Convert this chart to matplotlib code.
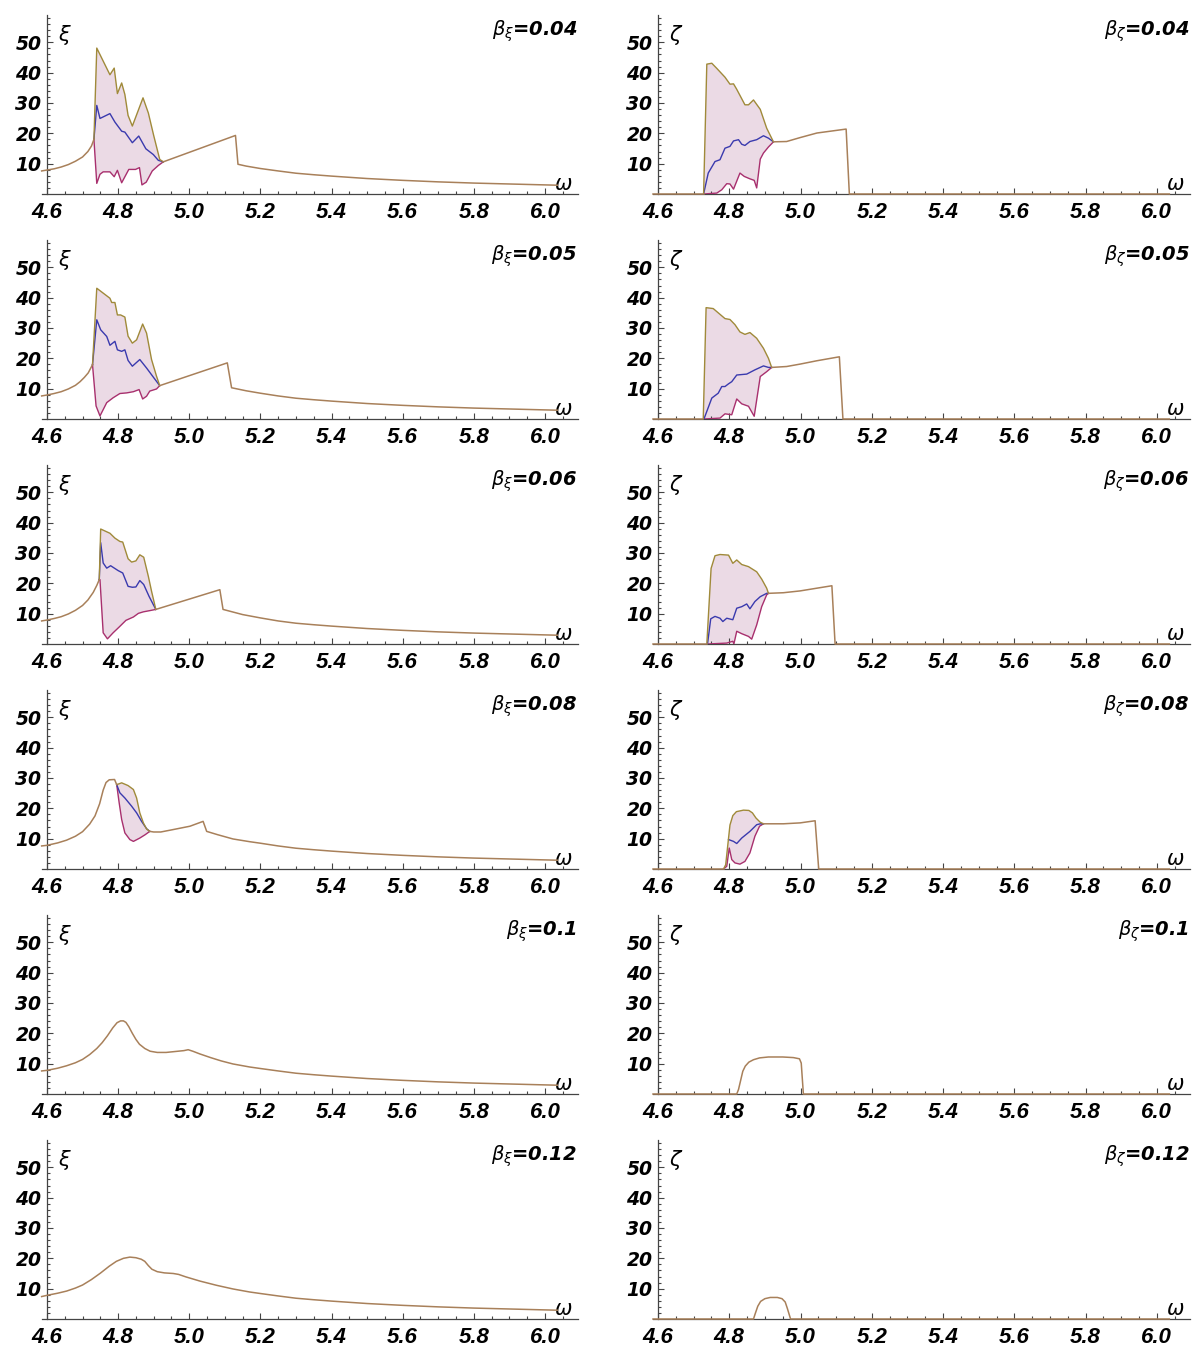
import numpy as np
import matplotlib.pyplot as plt
from matplotlib.ticker import FixedLocator

# ---- data: omega values (w) and amplitudes (v) ----
betas = ["0.04", "0.05", "0.06", "0.08", "0.1", "0.12"]
tail_w = [5.25, 5.3, 5.35, 5.4, 5.5, 5.6, 5.7, 5.8, 5.9, 6.0, 6.035]
tail_v = [7.6, 6.85, 6.35, 5.9, 5.1, 4.5, 4.0, 3.6, 3.3, 3.0, 2.9]

# xi, beta = 0.04
xi1_pre_w = [4.585, 4.6, 4.62, 4.64, 4.66, 4.68, 4.70, 4.715, 4.725, 4.732]
xi1_pre_v = [7.6, 7.9, 8.3, 8.9, 9.7, 10.8, 12.2, 14.0, 15.8, 18.0]
xi1_up_w = [4.732, 4.74, 4.777, 4.789, 4.798, 4.81, 4.819, 4.828, 4.84, 4.87, 4.885, 4.9, 4.917, 4.927]
xi1_up_v = [18.0, 48.1, 39.3, 41.5, 33.1, 36.6, 32.8, 25.9, 22.4, 31.7, 26.7, 19.3, 11.4, 10.6]
xi1_mid_w = [4.732, 4.74, 4.749, 4.777, 4.791, 4.81, 4.819, 4.84, 4.858, 4.878, 4.899, 4.913, 4.927]
xi1_mid_v = [18.0, 29.2, 24.9, 26.5, 23.7, 20.7, 20.4, 16.9, 19.1, 14.9, 13.0, 11.1, 10.6]
xi1_lo_w = [4.732, 4.74, 4.749, 4.758, 4.777, 4.789, 4.798, 4.81, 4.83, 4.849, 4.86, 4.867, 4.879, 4.896, 4.913, 4.927]
xi1_lo_v = [18.0, 3.5, 6.5, 7.3, 7.3, 5.7, 7.8, 3.7, 8.1, 8.1, 8.7, 3.0, 3.9, 7.6, 9.4, 10.6]
xi1_post_w = [4.927, 5.13, 5.137, 5.16, 5.2] + tail_w
xi1_post_v = [10.6, 19.3, 9.8, 9.2, 8.4] + tail_v

# zeta, beta = 0.04
ze1_pre_w = [4.586, 4.728]
ze1_pre_v = [0, 0]
ze1_up_w = [4.728, 4.737, 4.751, 4.765, 4.788, 4.802, 4.812, 4.821, 4.844, 4.854, 4.868, 4.887, 4.905, 4.924]
ze1_up_v = [0, 42.8, 43.1, 41.4, 38.5, 36.2, 36.3, 34.5, 29.4, 29.4, 31.0, 27.9, 21.7, 17.2]
ze1_mid_w = [4.728, 4.741, 4.76, 4.774, 4.788, 4.802, 4.812, 4.826, 4.835, 4.844, 4.858, 4.877, 4.896, 4.91, 4.924]
ze1_mid_v = [0, 6.9, 10.7, 11.3, 15.1, 15.7, 17.5, 17.9, 16.4, 16.0, 17.3, 17.9, 19.2, 18.4, 17.2]
ze1_lo_w = [4.728, 4.765, 4.779, 4.793, 4.802, 4.812, 4.83, 4.842, 4.858, 4.87, 4.877, 4.887, 4.896, 4.91, 4.924]
ze1_lo_v = [0, 0.3, 1.4, 3.4, 3.3, 1.6, 6.9, 5.8, 5.0, 4.5, 2.0, 11.5, 13.5, 15.5, 17.2]
ze1_post_w = [4.924, 4.961, 4.999, 5.046, 5.128, 5.137, 6.035]
ze1_post_v = [17.2, 17.3, 18.6, 20.1, 21.4, 0, 0]

# xi, beta = 0.05
xi2_pre_w = [4.585, 4.6, 4.62, 4.64, 4.66, 4.68, 4.693, 4.705, 4.716, 4.728]
xi2_pre_v = [7.6, 7.9, 8.4, 9.0, 9.9, 11.1, 12.3, 13.7, 15.2, 17.9]
xi2_up_w = [4.728, 4.74, 4.777, 4.782, 4.791, 4.798, 4.807, 4.819, 4.828, 4.84, 4.852, 4.869, 4.88, 4.894, 4.908, 4.917]
xi2_up_v = [17.9, 43.1, 39.8, 38.4, 38.4, 34.3, 34.3, 33.6, 27.3, 25.0, 26.1, 31.3, 28.3, 19.6, 14.1, 11.0]
xi2_mid_w = [4.728, 4.74, 4.751, 4.768, 4.777, 4.791, 4.798, 4.81, 4.819, 4.828, 4.84, 4.861, 4.88, 4.899, 4.917]
xi2_mid_v = [17.9, 32.7, 29.4, 27.2, 24.3, 25.6, 22.8, 22.3, 22.8, 19.3, 17.4, 19.6, 16.8, 13.8, 11.0]
xi2_lo_w = [4.728, 4.738, 4.749, 4.768, 4.786, 4.805, 4.824, 4.843, 4.859, 4.869, 4.88, 4.889, 4.908, 4.917]
xi2_lo_v = [17.9, 4.3, 1.0, 5.4, 7.0, 8.4, 8.6, 9.0, 9.7, 6.6, 7.5, 9.2, 9.9, 11.0]
xi2_post_w = [4.917, 5.107, 5.119, 5.16, 5.2] + tail_w
xi2_post_v = [11.0, 18.5, 10.3, 9.3, 8.5] + tail_v

# zeta, beta = 0.05
ze2_pre_w = [4.586, 4.727]
ze2_pre_v = [0, 0]
ze2_up_w = [4.727, 4.735, 4.755, 4.769, 4.788, 4.802, 4.816, 4.83, 4.844, 4.858, 4.877, 4.896, 4.91, 4.919]
ze2_up_v = [0, 36.7, 36.4, 35.0, 33.1, 32.8, 31.1, 28.7, 27.9, 28.5, 26.6, 23.3, 20.0, 17.0]
ze2_mid_w = [4.729, 4.751, 4.769, 4.779, 4.788, 4.798, 4.807, 4.821, 4.849, 4.872, 4.896, 4.91, 4.919]
ze2_mid_v = [0, 6.9, 8.5, 10.7, 10.7, 11.6, 12.3, 14.5, 14.8, 16.2, 17.5, 17.0, 17.0]
ze2_lo_w = [4.729, 4.774, 4.788, 4.807, 4.821, 4.835, 4.854, 4.87, 4.887, 4.905, 4.919]
ze2_lo_v = [0, 0.3, 1.7, 1.4, 6.6, 5.0, 4.2, 0.9, 14.0, 15.6, 17.0]
ze2_post_w = [4.919, 4.961, 4.999, 5.046, 5.109, 5.119, 6.035]
ze2_post_v = [17.0, 17.3, 18.1, 19.2, 20.5, 0, 0]

# xi, beta = 0.06
xi3_pre_w = [4.585, 4.6, 4.62, 4.64, 4.66, 4.68, 4.70, 4.715, 4.73, 4.74, 4.747]
xi3_pre_v = [7.6, 7.9, 8.4, 9.0, 9.9, 11.1, 12.7, 14.5, 17.0, 19.3, 21.2]
xi3_up_w = [4.747, 4.751, 4.777, 4.791, 4.805, 4.813, 4.828, 4.838, 4.85, 4.861, 4.872, 4.885, 4.894, 4.906]
xi3_up_v = [21.2, 37.9, 36.5, 34.9, 33.8, 33.6, 28.1, 27.0, 27.4, 29.4, 28.6, 22.3, 17.4, 11.4]
xi3_mid_w = [4.747, 4.751, 4.758, 4.768, 4.779, 4.8, 4.813, 4.828, 4.84, 4.85, 4.861, 4.872, 4.887, 4.906]
xi3_mid_v = [21.2, 33.4, 26.7, 25.0, 25.8, 24.2, 23.4, 19.0, 18.7, 18.8, 20.9, 19.6, 15.7, 11.4]
xi3_lo_w = [4.747, 4.749, 4.758, 4.77, 4.786, 4.803, 4.822, 4.843, 4.857, 4.871, 4.889, 4.906]
xi3_lo_v = [21.2, 21.2, 3.7, 1.7, 3.7, 5.6, 7.8, 8.9, 10.1, 10.6, 11.0, 11.4]
xi3_post_w = [4.906, 5.086, 5.095, 5.15, 5.2] + tail_w
xi3_post_v = [11.4, 17.9, 11.4, 9.7, 8.6] + tail_v

# zeta, beta = 0.06
ze3_pre_w = [4.586, 4.737]
ze3_pre_v = [0, 0]
ze3_up_w = [4.737, 4.749, 4.76, 4.774, 4.798, 4.81, 4.821, 4.835, 4.854, 4.877, 4.891, 4.905, 4.91]
ze3_up_v = [0, 24.9, 29.1, 29.5, 29.3, 26.6, 27.7, 26.2, 25.5, 23.8, 21.4, 18.4, 16.7]
ze3_mid_w = [4.739, 4.748, 4.76, 4.774, 4.782, 4.793, 4.81, 4.821, 4.835, 4.849, 4.858, 4.872, 4.887, 4.905, 4.91]
ze3_mid_v = [0, 8.3, 9.1, 8.5, 7.4, 8.5, 8.0, 11.8, 12.3, 13.2, 11.6, 14.0, 15.6, 16.7, 16.7]
ze3_lo_w = [4.739, 4.793, 4.81, 4.813, 4.821, 4.835, 4.854, 4.863, 4.877, 4.891, 4.905, 4.91]
ze3_lo_v = [0, 0.3, 0.9, 0, 4.2, 3.4, 2.5, 1.6, 6.3, 12.3, 16.2, 16.7]
ze3_post_w = [4.91, 4.952, 4.999, 5.046, 5.088, 5.097, 6.035]
ze3_post_v = [16.7, 16.9, 17.5, 18.4, 19.2, 0, 0]

# xi, beta = 0.08
xi4_pre_w = [4.585, 4.6, 4.63, 4.655, 4.68, 4.70, 4.72, 4.735, 4.748, 4.758, 4.766, 4.775, 4.79, 4.796]
xi4_pre_v = [7.6, 7.8, 8.6, 9.5, 10.8, 12.3, 14.8, 17.5, 21.5, 26.0, 28.5, 29.4, 29.5, 27.8]
xi4_up_w = [4.796, 4.81, 4.828, 4.843, 4.852, 4.861, 4.871, 4.88, 4.889]
xi4_up_v = [27.8, 28.4, 27.5, 26.2, 23.4, 18.5, 15.2, 13.2, 12.4]
xi4_mid_w = [4.796, 4.805, 4.819, 4.838, 4.852, 4.866, 4.88, 4.889]
xi4_mid_v = [27.8, 25.1, 23.4, 20.7, 18.5, 15.7, 13.3, 12.4]
xi4_lo_w = [4.796, 4.803, 4.81, 4.819, 4.833, 4.843, 4.861, 4.876, 4.889]
xi4_lo_v = [27.8, 21.8, 16.3, 11.9, 9.7, 9.1, 10.2, 11.3, 12.4]
xi4_post_w = [4.889, 4.9, 4.92, 4.955, 5.002, 5.039, 5.049, 5.08, 5.123, 5.17, 5.2] + tail_w
xi4_post_v = [12.4, 12.2, 12.2, 13.0, 14.1, 15.7, 12.4, 11.3, 9.9, 9.0, 8.5] + tail_v

# zeta, beta = 0.08
ze4_pre_w = [4.586, 4.784]
ze4_pre_v = [0, 0]
ze4_up_w = [4.784, 4.79, 4.796, 4.802, 4.81, 4.82, 4.84, 4.855, 4.865, 4.875, 4.887, 4.896]
ze4_up_v = [0, 1.4, 8.0, 14.5, 17.6, 18.9, 19.4, 19.3, 18.5, 16.8, 15.4, 14.9]
ze4_mid_w = [4.798, 4.812, 4.821, 4.835, 4.858, 4.877, 4.887, 4.896]
ze4_mid_v = [9.7, 9.1, 8.4, 10.2, 12.4, 14.6, 14.9, 14.9]
ze4_lo_w = [4.784, 4.793, 4.8, 4.807, 4.816, 4.83, 4.844, 4.858, 4.872, 4.885, 4.896]
ze4_lo_v = [0, 0.9, 6.9, 3.1, 2.0, 1.6, 2.5, 5.3, 10.8, 14.1, 14.9]
ze4_post_w = [4.896, 4.952, 4.999, 5.041, 5.051, 6.035]
ze4_post_v = [14.9, 14.9, 15.2, 15.9, 0, 0]

# beta = 0.1 and 0.12: single curves
xi5_w = [4.585, 4.6, 4.63, 4.655, 4.68, 4.70, 4.72, 4.74, 4.755, 4.77, 4.785, 4.797, 4.807, 4.815,
         4.822, 4.83, 4.84, 4.85, 4.86, 4.875, 4.89, 4.91, 4.935, 4.96, 4.985, 4.997, 5.01, 5.03,
         5.06, 5.09, 5.123, 5.17, 5.2] + tail_w
xi5_v = [7.6, 7.8, 8.5, 9.3, 10.3, 11.4, 13.0, 15.0, 16.9, 19.2, 21.8, 23.5, 24.1, 24.1,
         23.6, 22.2, 20.0, 18.0, 16.4, 15.0, 14.1, 13.7, 13.7, 14.0, 14.3, 14.6, 14.1, 13.2,
         12.0, 10.9, 9.9, 8.9, 8.4] + tail_v
ze5_w = [4.586, 4.821, 4.826, 4.832, 4.838, 4.845, 4.855, 4.868, 4.885, 4.91, 4.95, 4.98, 4.997, 5.002, 5.008, 6.035]
ze5_v = [0, 0, 1.5, 4.5, 7.5, 9.2, 10.5, 11.3, 11.9, 12.2, 12.2, 12.0, 11.6, 10.2, 0, 0]
xi6_w = [4.585, 4.6, 4.63, 4.655, 4.68, 4.70, 4.725, 4.75, 4.775, 4.795, 4.815, 4.833, 4.85, 4.865,
         4.875, 4.885, 4.895, 4.91, 4.93, 4.955, 4.97, 4.99, 5.03, 5.077, 5.123, 5.17, 5.2] + tail_w
xi6_v = [7.4, 7.8, 8.5, 9.2, 10.2, 11.2, 13.0, 15.1, 17.4, 19.0, 20.0, 20.4, 20.2, 19.7,
         19.0, 17.6, 16.4, 15.6, 15.2, 15.0, 14.7, 13.9, 12.5, 11.1, 9.9, 8.9, 8.4] + tail_v
ze6_w = [4.586, 4.868, 4.873, 4.88, 4.888, 4.9, 4.915, 4.935, 4.948, 4.957, 4.963, 4.97, 4.972, 6.035]
ze6_v = [0, 0, 1.8, 4.2, 5.8, 6.7, 7.1, 7.1, 6.7, 5.6, 3.5, 0.8, 0, 0]

xi_panels = [
    (xi1_pre_w, xi1_pre_v, xi1_up_w, xi1_up_v, xi1_mid_w, xi1_mid_v, xi1_lo_w, xi1_lo_v, xi1_post_w, xi1_post_v),
    (xi2_pre_w, xi2_pre_v, xi2_up_w, xi2_up_v, xi2_mid_w, xi2_mid_v, xi2_lo_w, xi2_lo_v, xi2_post_w, xi2_post_v),
    (xi3_pre_w, xi3_pre_v, xi3_up_w, xi3_up_v, xi3_mid_w, xi3_mid_v, xi3_lo_w, xi3_lo_v, xi3_post_w, xi3_post_v),
    (xi4_pre_w, xi4_pre_v, xi4_up_w, xi4_up_v, xi4_mid_w, xi4_mid_v, xi4_lo_w, xi4_lo_v, xi4_post_w, xi4_post_v),
    (xi5_w, xi5_v, None, None, None, None, None, None, [], []),
    (xi6_w, xi6_v, None, None, None, None, None, None, [], []),
]
ze_panels = [
    (ze1_pre_w, ze1_pre_v, ze1_up_w, ze1_up_v, ze1_mid_w, ze1_mid_v, ze1_lo_w, ze1_lo_v, ze1_post_w, ze1_post_v),
    (ze2_pre_w, ze2_pre_v, ze2_up_w, ze2_up_v, ze2_mid_w, ze2_mid_v, ze2_lo_w, ze2_lo_v, ze2_post_w, ze2_post_v),
    (ze3_pre_w, ze3_pre_v, ze3_up_w, ze3_up_v, ze3_mid_w, ze3_mid_v, ze3_lo_w, ze3_lo_v, ze3_post_w, ze3_post_v),
    (ze4_pre_w, ze4_pre_v, ze4_up_w, ze4_up_v, ze4_mid_w, ze4_mid_v, ze4_lo_w, ze4_lo_v, ze4_post_w, ze4_post_v),
    (ze5_w, ze5_v, None, None, None, None, None, None, [], []),
    (ze6_w, ze6_v, None, None, None, None, None, None, [], []),
]

c_up = '#a08a3a'
c_mid = '#3a3aae'
c_lo = '#a8306e'
c_base = '#a8805a'
c_fill = '#ebdae5'

W, H = 1193, 1349
fig = plt.figure(figsize=(W / 100, H / 100), dpi=100)


def draw(ax, p, sym, sub, beta):
    pre_w, pre_v, up_w, up_v, mid_w, mid_v, lo_w, lo_v, post_w, post_v = p
    if up_w is not None:
        ax.fill(np.r_[up_w, lo_w[::-1]], np.r_[up_v, lo_v[::-1]], color=c_fill, lw=0, zorder=1)
        ax.plot(lo_w, lo_v, color=c_lo, lw=1.0, zorder=3)
        ax.plot(mid_w, mid_v, color=c_mid, lw=1.0, zorder=3)
        ax.plot(up_w, up_v, color=c_up, lw=1.0, zorder=3)
    ax.plot(pre_w, pre_v, color=c_base, lw=1.1, zorder=4, clip_on=False)
    if len(post_w):
        ax.plot(post_w, post_v, color=c_base, lw=1.1, zorder=4, clip_on=False)

    ax.set_xlim(4.586, 6.093)
    ax.set_ylim(0, 59)
    for s in ['top', 'right']:
        ax.spines[s].set_visible(False)
    ax.spines['left'].set_position(('data', 4.6))
    for s in ['left', 'bottom']:
        ax.spines[s].set_color('#444444')
        ax.spines[s].set_linewidth(0.9)
    ax.xaxis.set_major_locator(FixedLocator([4.6, 4.8, 5.0, 5.2, 5.4, 5.6, 5.8, 6.0]))
    ax.xaxis.set_minor_locator(FixedLocator(np.arange(4.65, 6.09, 0.05)))
    ax.yaxis.set_major_locator(FixedLocator([10, 20, 30, 40, 50]))
    ax.yaxis.set_minor_locator(FixedLocator(np.arange(2, 59, 2)))
    ax.tick_params(which='both', direction='in', color='#444444', width=0.8)
    ax.tick_params(which='major', length=4)
    ax.tick_params(which='minor', length=2)
    ax.tick_params(axis='x', pad=6)
    ax.tick_params(axis='y', pad=4)
    ax.set_xticklabels(['4.6', '4.8', '5.0', '5.2', '5.4', '5.6', '5.8', '6.0'],
                       family='Liberation Sans', weight='bold', style='italic', size=16)
    ax.set_yticklabels(['10', '20', '30', '40', '50'],
                       family='DejaVu Sans', weight='bold', style='italic', size=13.5)

    ax.text(4.651, 52.5, sym, ha='center', va='center', size=15)
    ax.text(6.052, 3.4, r'$\omega$', ha='center', va='center', size=15)
    ax.text(6.0915, 52.3, r'$\beta_{%s}$' % sub + '=' + beta, ha='right', va='baseline',
            family='DejaVu Sans', weight='bold', style='italic', size=14)


for r in range(6):
    top = 15 + 225 * r
    bot = 194 + 225 * r
    axl = fig.add_axes([42 / W, 1 - bot / H, 536 / W, (bot - top) / H])
    draw(axl, xi_panels[r], r'$\xi$', r'\xi', betas[r])
    axr = fig.add_axes([653 / W, 1 - bot / H, 537 / W, (bot - top) / H])
    draw(axr, ze_panels[r], r'$\zeta$', r'\zeta', betas[r])

fig.savefig('out.png', dpi=100)
